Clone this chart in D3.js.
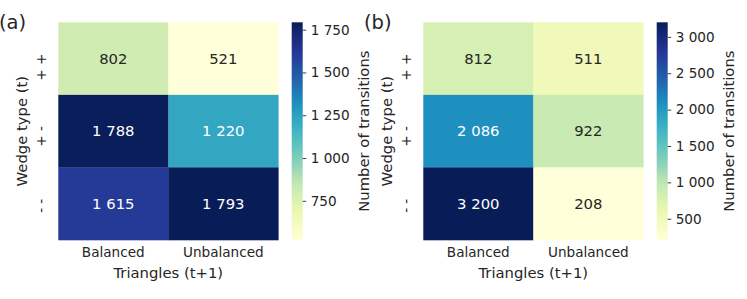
<!DOCTYPE html>
<html>
<head>
<meta charset="utf-8">
<script src="https://cdn.jsdelivr.net/npm/d3@7"></script>
<style>
  body { margin: 0; background: #fff; }
  svg { font-family: "DejaVu Sans", sans-serif; }
</style>
</head>
<body>
<svg id="chart" width="747" height="299"></svg>
<script>
// data
const rowLabels = ["+ +", "+ -", "- -"];
const colLabels = ["Balanced", "Unbalanced"];
const panelTitles = ["(a)", "(b)"];
const valuesA = [[802, 521], [1788, 1220], [1615, 1793]];
const valuesB = [[812, 511], [2086, 922], [3200, 208]];
const ticksA = [750, 1000, 1250, 1500, 1750];
const ticksB = [500, 1000, 1500, 2000, 2500, 3000];

const svg = d3.select("#chart");
const fmt = d3.formatLocale({ decimal: ".", thousands: " ", grouping: [3], currency: ["", ""] }).format(",d");
const ylgnbu = ["#ffffd9", "#edf8b1", "#c7e9b4", "#7fcdbb", "#41b6c4", "#1d91c0", "#225ea8", "#253494", "#081d58"];
const textDark = "#262626";
const tickSize = 13.6;   // tick labels
const labelSize = 14.8;  // axis labels + annotations

function luminance(c) {
  const rgb = d3.rgb(c);
  const lin = v => { v = v / 255; return v <= 0.03928 ? v / 12.92 : Math.pow((v + 0.055) / 1.055, 2.4); };
  return 0.2126 * lin(rgb.r) + 0.7152 * lin(rgb.g) + 0.0722 * lin(rgb.b);
}

function drawPanel(dx, values, ticks, title, id) {
  const g = svg.append("g").attr("transform", `translate(${dx},0)`);
  const flat = values.flat();
  const vmin = d3.min(flat), vmax = d3.max(flat);

  const x = d3.scaleBand().domain(colLabels).range([58.3, 278.3]);
  const y = d3.scaleBand().domain(rowLabels).range([22.3, 240]);

  // piecewise linear like matplotlib's YlGnBu
  const color = d3.scaleLinear()
    .domain(ylgnbu.map((c, i) => vmin + (vmax - vmin) * i / (ylgnbu.length - 1)))
    .range(ylgnbu);

  const cells = [];
  values.forEach((row, i) => row.forEach((v, j) => cells.push({ r: rowLabels[i], c: colLabels[j], v: v })));

  g.selectAll("rect.cell").data(cells).enter().append("rect")
    .attr("class", "cell")
    .attr("x", d => x(d.c))
    .attr("y", d => y(d.r))
    .attr("width", x.bandwidth() + 0.3)
    .attr("height", y.bandwidth() + 0.3)
    .attr("fill", d => color(d.v));

  g.selectAll("text.annot").data(cells).enter().append("text")
    .attr("class", "annot")
    .attr("x", d => x(d.c) + x.bandwidth() / 2)
    .attr("y", d => y(d.r) + y.bandwidth() / 2)
    .attr("dy", "0.36em")
    .attr("text-anchor", "middle")
    .style("font-size", labelSize + "px")
    .attr("fill", d => luminance(color(d.v)) > 0.408 ? textDark : "#fff")
    .text(d => fmt(d.v));

  // x tick labels
  g.selectAll("text.xt").data(colLabels).enter().append("text")
    .attr("class", "xt")
    .attr("x", d => x(d) + x.bandwidth() / 2)
    .attr("y", 256.6)
    .attr("text-anchor", "middle")
    .style("font-size", tickSize + "px")
    .attr("fill", textDark)
    .text(d => d);

  // y tick labels, rotated
  g.selectAll("text.yt").data(rowLabels).enter().append("text")
    .attr("class", "yt")
    .attr("transform", d => `translate(46,${y(d) + y.bandwidth() / 2 - 5}) rotate(-90)`)
    .attr("text-anchor", "end")
    .style("font-size", tickSize + "px")
    .attr("fill", textDark)
    .text(d => d);

  g.append("text")
    .attr("x", (x.range()[0] + x.range()[1]) / 2)
    .attr("y", 277.5)
    .attr("text-anchor", "middle")
    .style("font-size", labelSize + "px")
    .attr("fill", textDark)
    .text("Triangles (t+1)");

  g.append("text")
    .attr("transform", `translate(27.3,${(y.range()[0] + y.range()[1]) / 2}) rotate(-90)`)
    .attr("text-anchor", "middle")
    .style("font-size", labelSize + "px")
    .attr("fill", textDark)
    .text("Wedge type (t)");

  g.append("text")
    .attr("x", -1)
    .attr("y", 28.5)
    .style("font-size", "19.5px")
    .attr("fill", textDark)
    .text(title);

  // colorbar
  const cbX = 291.7, cbW = 11;
  const cb = d3.scaleLinear().domain([vmin, vmax]).range([240, 22.3]);
  const grad = svg.append("defs").append("linearGradient")
    .attr("id", id).attr("x1", 0).attr("y1", 1).attr("x2", 0).attr("y2", 0);
  grad.selectAll("stop").data(ylgnbu).enter().append("stop")
    .attr("offset", (d, i) => i / (ylgnbu.length - 1))
    .attr("stop-color", d => d);
  g.append("rect")
    .attr("x", cbX).attr("y", cb.range()[1])
    .attr("width", cbW).attr("height", cb.range()[0] - cb.range()[1])
    .attr("fill", `url(#${id})`);

  const axis = g.append("g")
    .attr("transform", `translate(${cbX + cbW},0)`)
    .call(d3.axisRight(cb).tickValues(ticks).tickFormat(fmt).tickSize(3.5).tickPadding(4.5));
  axis.select(".domain").remove();
  axis.selectAll("line").attr("stroke", textDark).attr("stroke-width", 0.9);
  axis.selectAll("text")
    .attr("fill", textDark)
    .style("font-size", tickSize + "px")
    .style("font-family", "DejaVu Sans");

  g.append("text")
    .attr("transform", `translate(368.8,${(cb.range()[0] + cb.range()[1]) / 2}) rotate(-90)`)
    .attr("text-anchor", "middle")
    .style("font-size", labelSize + "px")
    .attr("fill", textDark)
    .text("Number of transitions");
}

drawPanel(0, valuesA, ticksA, panelTitles[0], "gradA");
drawPanel(365, valuesB, ticksB, panelTitles[1], "gradB");
</script>
</body>
</html>
